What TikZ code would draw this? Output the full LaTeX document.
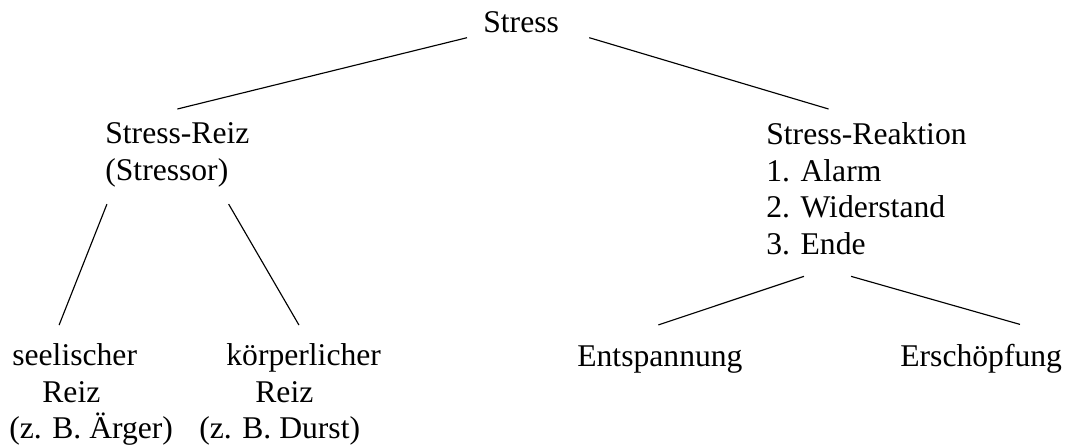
\documentclass[tikz,border=0pt]{standalone}
\usepackage{fontspec}
\setmainfont{Liberation Serif}
\usepackage{tikz}
\usetikzlibrary{positioning,calc}
\tikzset{
	term/.style={inner sep=0pt,font=\fontsize{18}{20.9}\selectfont},
	termL/.style={term,align=left,anchor=north west},
	edge/.style={color=black,line width=0.65pt}
}

\begin{document}
\begin{tikzpicture}[x=0.02cm,y=0.02cm]
	\useasboundingbox (0,0) rectangle (1067,-446);

	%%root
	\node[term,anchor=base west] (stress) at (483,-33) {Stress};

	%%stimulus side
	\node[termL] (reiz) at (105,-122) {Stress-Reiz\\(Stressor)};
	\node[termL] (seel) at (9,-343) {\hspace*{1.7pt}seelischer\\\hspace*{18.8pt}Reiz\\(z. B. Ärger)};
	\node[termL] (koerp) at (199,-343) {\hspace*{15.4pt}körperlicher\\\hspace*{31.9pt}Reiz\\(z. B. Durst)};

	%%reaction side
	\node[termL] (reakt) at (766,-122) {Stress-Reaktion\\1. Alarm\\2. Widerstand\\3. Ende};
	\node[term,anchor=base west] (entsp) at (577,-366) {Entspannung};
	\node[term,anchor=base west] (ersch) at (900,-366) {Erschöpfung};

	%%edges
	\draw[edge] ([shift={(-9.1pt,-2.3pt)}]stress.south west) -- ([yshift=7.4pt]reiz.north);
	\draw[edge] ([shift={(17.1pt,-2.3pt)}]stress.south east) -- ([shift={(-21.6pt,7.4pt)}]reakt.north);
	\draw[edge] ([shift={(1.1pt,-9.7pt)}]reiz.south west) -- ([shift={(28.5pt,10.2pt)}]seel.north west);
	\draw[edge] ([shift={(-12pt,-9.7pt)}]reiz.south east) -- ([shift={(56.9pt,10.2pt)}]koerp.north west);
	\draw[edge] ([shift={(21.6pt,-12pt)}]reakt.south west) -- ([shift={(-0.9pt,11.4pt)}]entsp.north);
	\draw[edge] ([shift={(48.4pt,-12pt)}]reakt.south west) -- ([shift={(68.3pt,10.8pt)}]ersch.north west);
\end{tikzpicture}
\end{document}
